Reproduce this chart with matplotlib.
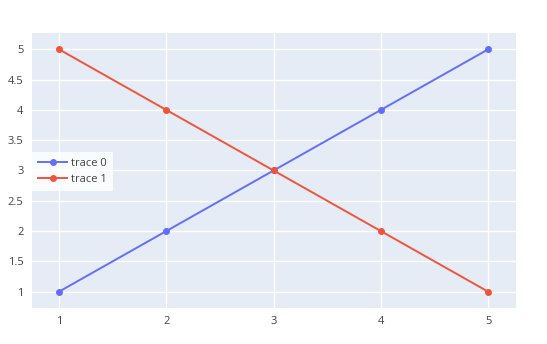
import matplotlib
matplotlib.use("Agg")
import matplotlib.pyplot as plt

x = [1, 2, 3, 4, 5]
trace0 = [1, 2, 3, 4, 5]
trace1 = [5, 4, 3, 2, 1]
names = ["trace 0", "trace 1"]
colors = ["#636efa", "#EF553B"]
yticks = [1, 1.5, 2, 2.5, 3, 3.5, 4, 4.5, 5]
ylabels = ["1", "1.5", "2", "2.5", "3", "3.5", "4", "4.5", "5"]

plt.rcParams['font.family'] = ['Open Sans', 'DejaVu Sans']

W, H = 547, 344
fig = plt.figure(figsize=(W/100, H/100), dpi=100)
l, r, t, b = 32, 516, 33, 308
ax = fig.add_axes([l/W, 1 - b/H, (r-l)/W, (b-t)/H])
ax.set_facecolor("#E5ECF6")
for s in ax.spines.values():
    s.set_visible(False)
ax.grid(True, color="white", linewidth=1)
ax.set_axisbelow(True)

for ys, c, n in zip([trace0, trace1], colors, names):
    ax.plot(x, ys, color=c, linewidth=1.4, marker="o", markersize=4, label=n, zorder=3)

ax.set_xlim(0.748, 5.26)
ax.set_ylim(0.73, 5.27)
ax.set_xticks(x)
ax.set_yticks(yticks)
ax.set_yticklabels(ylabels)
ax.tick_params(length=0, labelsize=8, labelcolor="#444444", pad=6)

leg = ax.legend(loc="upper left", bbox_to_anchor=(0, 1 - (152 - t)/(b - t)),
                frameon=True, fancybox=False, fontsize=8, borderaxespad=0,
                handlelength=2.6, handletextpad=0.4, labelspacing=0.45,
                borderpad=0.55)
leg.get_frame().set_facecolor("white")
leg.get_frame().set_edgecolor("white")
leg.get_frame().set_linewidth(0)
for txt in leg.get_texts():
    txt.set_color("#444444")

fig.savefig("out.png", dpi=100)
